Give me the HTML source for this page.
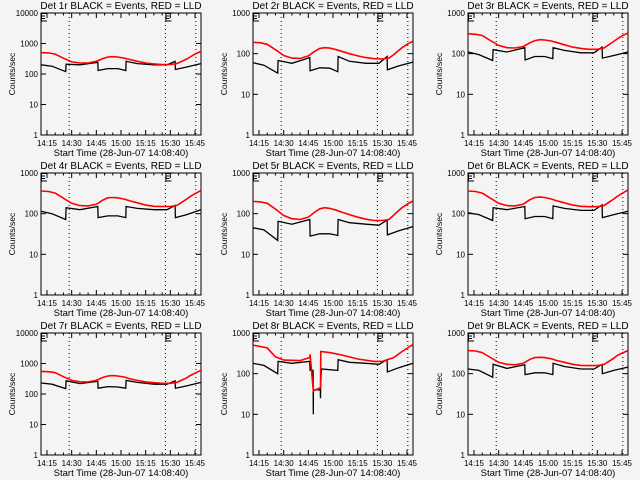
<!DOCTYPE html>
<html><head><meta charset="utf-8"><style>
html,body{margin:0;padding:0;background:#f4f4f4;}
svg{display:block;font-family:"Liberation Sans",sans-serif;}
</style></head><body>
<svg id="c" width="640" height="480" viewBox="0 0 640 480"></svg>
<script>
const tickMinutes=[15,30,45,60,75,90,105];
const tickLabels=["14:15","14:30","14:45","15:00","15:15","15:30","15:45"];
const dottedMinutes=[28.5,87,105.5];
const detNames=["1r","2r","3r","4r","5r","6r","7r","8r","9r"];
const decades=[4,3,3,3,3,3,4,3,3];
const redTimes=[11.4,16,20,25,30,35,40,45,49,52,55,58,62,65,70,75,80,85,90,94,97,100,102,105,108.6];
const blackTimes=[11.4,18,26.4,26.6,35,45.9,46.1,52,58,62.9,63.1,70,80,88,92.9,93.1,100,108.6];
const red1=[500,490,450,330,250,230,230,260,320,360,370,360,330,300,260,230,215,205,205,220,260,310,360,450,550];
const black1=[200,180,120,210,200,240,130,150,150,130,260,220,200,200,260,140,170,220];
const red2=[190,185,170,125,90,78,76,88,115,135,140,137,125,115,100,88,80,75,74,78,95,120,140,170,200];
const black2=[60,52,33,68,58,80,38,45,44,36,85,65,58,58,85,40,50,62];
const red3=[310,300,280,210,160,140,138,150,185,210,220,217,205,190,165,145,135,128,128,138,165,200,230,275,320];
const black3=[110,95,68,125,110,140,70,85,85,75,140,120,105,105,145,78,90,110];
const red4=[360,350,320,240,180,158,155,170,215,245,250,245,228,210,185,162,152,150,150,160,190,230,265,310,370];
const black4=[115,100,72,140,125,150,80,88,88,80,150,135,125,125,160,80,95,125];
const red5=[200,195,180,130,90,75,72,82,110,132,140,135,122,110,95,82,73,68,68,72,92,120,140,170,205];
const black5=[45,40,22,65,55,72,28,32,32,29,72,60,55,52,70,30,38,48];
const red6=[360,350,320,240,180,158,155,172,220,250,255,250,230,210,185,162,152,148,148,158,190,230,265,315,380];
const black6=[105,95,68,140,125,150,75,85,85,75,155,135,120,120,165,80,95,115];
const red7=[550,540,500,370,280,252,250,280,350,390,400,390,360,320,280,250,235,225,225,240,285,340,400,480,600];
const black7=[230,210,150,270,220,260,155,175,170,155,280,240,210,210,270,155,185,240];
const red8Times=[11.4,20,25,30,40,45.9,46.1,48,52.4,52.6,58,65,75,85,90,97,102,108.6];
const red8=[500,430,260,215,210,250,300,38,45,350,330,290,230,200,200,250,350,520];
const black8Times=[11.4,18,26.4,26.6,35,45.9,46.1,47.9,48,48.1,52.3,52.4,52.5,53,62.9,63.1,70,80,88,92.9,93.1,100,108.6];
const black8=[180,160,100,200,180,200,120,120,10,40,40,25,60,130,120,220,190,180,170,220,110,140,180];
const red9=[370,360,330,250,190,170,165,180,225,248,252,248,232,212,190,170,160,158,158,168,200,240,280,320,370];
const black9=[130,120,82,170,135,165,95,105,105,95,180,150,130,130,170,100,120,145];

const reds=[red1,red2,red3,red4,red5,red6,red7,red8,red9];
const blacks=[black1,black2,black3,black4,black5,black6,black7,black8,black9];
const NS="http://www.w3.org/2000/svg";
const svg=document.getElementById('c');
const lefts=[41,253,468],tops=[13,173,333];
const W=160,H=122,T0=11.35,T1=108.65;
function mk(tag,attrs,parent){const e=document.createElementNS(NS,tag);for(const k in attrs)e.setAttribute(k,attrs[k]);(parent||svg).appendChild(e);return e;}
for(let p=0;p<9;p++){
  const L=lefts[p%3],Tp=tops[Math.floor(p/3)];
  const nd=decades[p];
  const xs=t=>L+(t-T0)/(T1-T0)*W;
  const ys=v=>Tp+H-Math.log10(v)/nd*H;
  const g=mk('g',{});
  
  
  const ti=mk('text',{x:L+W/2,y:Tp-4,'text-anchor':'middle','font-size':'10'},g);
  ti.textContent='Det '+detNames[p]+' BLACK = Events, RED = LLD';
  
  
  const box=mk('rect',{x:L,y:Tp,width:W,height:H,fill:'none',stroke:'#000','stroke-width':1},g);
  
  
  for(let m=15;m<=105;m+=5){
    const x=xs(m),len=(m%15===0)?5:2.5;
    mk('line',{x1:x,x2:x,y1:Tp+H,y2:Tp+H-len,stroke:'#000'},g);
    mk('line',{x1:x,x2:x,y1:Tp,y2:Tp+len,stroke:'#000'},g);
  }
  tickMinutes.forEach((m,i)=>{
    const t=mk('text',{x:xs(m),y:Tp+H+11,'text-anchor':'middle','font-size':'8'},g);
    t.textContent=tickLabels[i];
    
    
  });
  const xt=mk('text',{x:L+W/2,y:Tp+H+21,'text-anchor':'middle','font-size':'9.5'},g);
  xt.textContent='Start Time (28-Jun-07 14:08:40)';
  
  
  for(let d=0;d<=nd;d++){
    const y=ys(Math.pow(10,d));
    mk('line',{x1:L,x2:L+5,y1:y,y2:y,stroke:'#000'},g);
    mk('line',{x1:L+W,x2:L+W-5,y1:y,y2:y,stroke:'#000'},g);
    const t=mk('text',{x:L-3,y:y+3,'text-anchor':'end','font-size':'8'},g);
    t.textContent=String(Math.pow(10,d));
    
    
  }
  const yt=mk('text',{x:0,y:0,'text-anchor':'middle','font-size':'8.5',transform:`translate(${L-26},${Tp+H/2}) rotate(-90)`},g);
  yt.textContent='Counts/sec';
  
  
  [T0,dottedMinutes[1]].forEach(m=>{
    const x=m===T0?L:xs(m);
    mk('path',{d:`M${x+0.5},${Tp} V${Tp+8} M${x},${Tp+0.5} H${x+6} M${x},${Tp+3} H${x+4} M${x},${Tp+5.5} H${x+4} M${x},${Tp+8} H${x+6}`,stroke:'#000',fill:'none'},g);
  });
  dottedMinutes.forEach(m=>{
    const l=mk('line',{x1:xs(m),x2:xs(m),y1:Tp,y2:Tp+H,stroke:'#000','stroke-dasharray':'1,3'},g);
    
    
  });
  const rt=p===7?red8Times:redTimes, bt=p===7?black8Times:blackTimes;
  const bl=mk('polyline',{points:blacks[p].map((v,i)=>xs(bt[i]).toFixed(1)+','+ys(v).toFixed(1)).join(' '),fill:'none',stroke:'#000','stroke-width':1.3},g);
  
  
  const rl=mk('polyline',{points:reds[p].map((v,i)=>xs(rt[i]).toFixed(1)+','+ys(v).toFixed(1)).join(' '),fill:'none',stroke:'#f00','stroke-width':1.6},g);
  
  
}
</script>
</body></html>
